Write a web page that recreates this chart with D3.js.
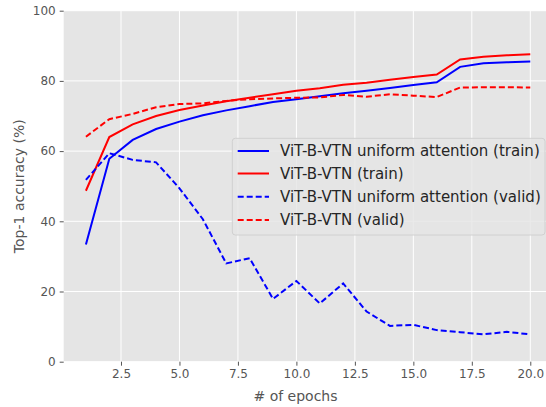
<!DOCTYPE html>
<html><head><meta charset="utf-8">
<script src="https://cdn.jsdelivr.net/npm/d3@7/dist/d3.min.js"></script>
<style>body{margin:0;background:#fff}svg{display:block}</style>
</head><body>
<script>
const epochs = [1,2,3,4,5,6,7,8,9,10,11,12,13,14,15,16,17,18,19,20];
const uniformTrain = [33.4,57.8,63.2,66.3,68.4,70.2,71.6,72.8,74.0,74.8,75.6,76.5,77.2,78.0,78.8,79.6,84.0,85.0,85.3,85.5];
const vtnTrain = [48.7,64.0,67.6,70.0,71.7,73.0,74.2,75.2,76.2,77.2,77.9,78.9,79.5,80.3,81.1,81.8,86.1,86.9,87.3,87.6];
const uniformValid = [51.8,59.4,57.5,56.8,49.4,40.6,28.0,29.5,17.9,23.0,16.6,22.3,14.3,10.2,10.5,9.0,8.4,7.8,8.5,7.8];
const vtnValid = [64.1,69.1,70.6,72.5,73.4,73.6,74.3,74.8,75.0,75.2,75.3,76.0,75.5,76.2,75.8,75.4,78.1,78.2,78.2,78.1];
const xTicks = [2.5,5.0,7.5,10.0,12.5,15.0,17.5,20.0];
const yTicks = [0,20,40,60,80,100];
const seriesNames = ["ViT-B-VTN uniform attention (train)","ViT-B-VTN (train)","ViT-B-VTN uniform attention (valid)","ViT-B-VTN (valid)"];
const seriesColors = ["#0000ff","#ff0000","#0000ff","#ff0000"];
const seriesDashed = [false,false,true,true];
const seriesData = [uniformTrain, vtnTrain, uniformValid, vtnValid];

const W = 546, H = 407;
const svg = d3.select("body").append("svg").attr("width", W).attr("height", H)
  .style("font-family", "'DejaVu Sans', sans-serif");

const x = d3.scaleLinear().domain([0.05, 20.95]).range([63.7, 552.5]);
const y = d3.scaleLinear().domain([0, 100]).range([361.7, 10.7]);

svg.append("rect").attr("x", x(0.05)).attr("y", y(100)).attr("width", x(20.95)-x(0.05)).attr("height", y(0)-y(100)).attr("fill", "#e5e5e5");

// grid
svg.append("g").selectAll("line").data(xTicks).join("line")
  .attr("x1", d=>x(d)).attr("x2", d=>x(d)).attr("y1", y(0)).attr("y2", y(100))
  .attr("stroke", "#fff").attr("stroke-width", 1);
svg.append("g").selectAll("line").data(yTicks).join("line")
  .attr("x1", x(0.05)).attr("x2", x(20.95)).attr("y1", d=>y(d)).attr("y2", d=>y(d))
  .attr("stroke", "#fff").attr("stroke-width", 1);

// axes
const xAxis = svg.append("g").attr("transform", `translate(0,${y(0)})`)
  .call(d3.axisBottom(x).tickValues(xTicks).tickFormat(d3.format(".1f")).tickSize(4).tickPadding(4));
const yAxis = svg.append("g").attr("transform", `translate(${x(0.05)},0)`)
  .call(d3.axisLeft(y).tickValues(yTicks).tickSize(4).tickPadding(4));
[xAxis, yAxis].forEach(a => {
  a.select(".domain").remove();
  a.selectAll(".tick line").attr("stroke", "#555");
  a.selectAll(".tick text").attr("fill", "#555").style("font-size", "12px").style("font-family", "'DejaVu Sans', sans-serif");
});

svg.append("text").attr("x", 295.5).attr("y", 401).attr("text-anchor", "middle")
  .attr("fill", "#555").style("font-size", "14px").text("# of epochs");
svg.append("text").attr("transform", `translate(24,${(y(0)+y(100))/2}) rotate(-90)`).attr("text-anchor", "middle")
  .attr("fill", "#555").style("font-size", "14px").text("Top-1 accuracy (%)");

// lines
const line = d3.line().x((d,i)=>x(epochs[i])).y(d=>y(d));
seriesData.forEach((s, k) => {
  svg.append("path").datum(s).attr("d", line).attr("fill", "none")
    .attr("stroke", seriesColors[k]).attr("stroke-width", 2)
    .attr("stroke-dasharray", seriesDashed[k] ? "6,3" : null);
});

// legend
const lg = svg.append("g");
lg.append("rect").attr("x", 232.3).attr("y", 138.3).attr("width", 312.7).attr("height", 96.7)
  .attr("rx", 3).attr("fill", "#e5e5e5").attr("fill-opacity", 0.8).attr("stroke", "#d0d0d0").attr("stroke-width", 1);
const rowY = [151, 173.5, 196.8, 220];
seriesNames.forEach((n, k) => {
  lg.append("line").attr("x1", 237.7).attr("x2", 269).attr("y1", rowY[k]).attr("y2", rowY[k])
    .attr("stroke", seriesColors[k]).attr("stroke-width", 2)
    .attr("stroke-dasharray", seriesDashed[k] ? "6,3" : null);
  lg.append("text").attr("x", 280).attr("y", rowY[k]).attr("dy", "0.35em")
    .attr("fill", "#262626").style("font-size", "15px").text(n);
});
</script>
</body></html>
